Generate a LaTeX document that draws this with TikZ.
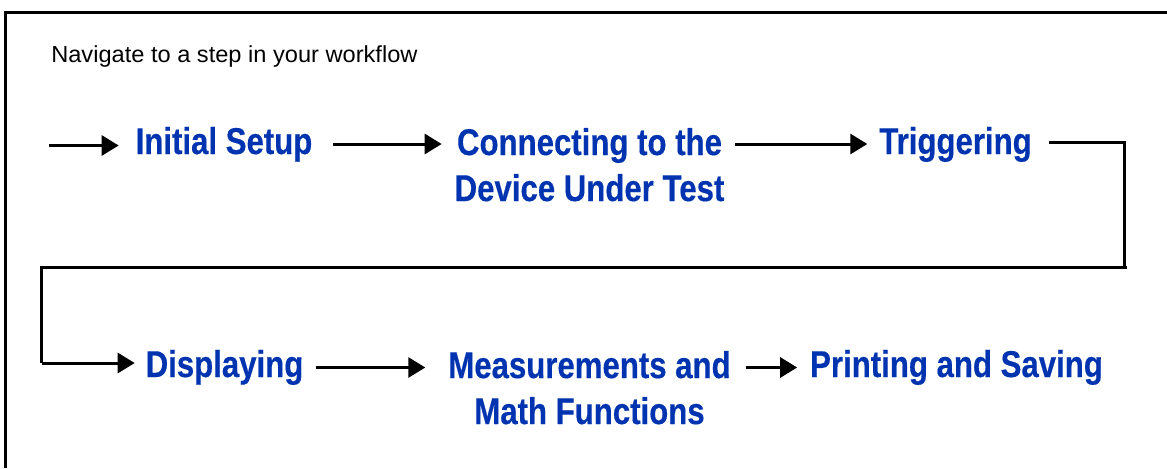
\documentclass[tikz,border=0pt]{standalone}
\usepackage{fontspec}
\setmainfont{Liberation Sans}
\newfontfamily\stepfont[FakeStretch=0.835,BoldFeatures={FakeStretch=0.835,FakeBold=0.35}]{Liberation Sans}
\newfontfamily\introfont[FakeStretch=1.018]{Liberation Sans}
\usetikzlibrary{arrows.meta}
\definecolor{stepblue}{RGB}{0,51,175}
\tikzset{
  stepnode/.style={inner sep=0pt,outer sep=0pt,text=stepblue,align=center,
    font=\stepfont\bfseries\fontsize{28pt}{34.5pt}\selectfont},
  heavy/.style={line width=2.25pt,draw=black},
  flow/.style={heavy,-{Triangle[length=12.75pt,width=15pt]}},
}
\begin{document}
\begin{tikzpicture}[x=0.75pt,y=-0.75pt]
\useasboundingbox (0,0) rectangle (1167,468);
\coordinate (fa) at (5.5,468);
\coordinate (fb) at (5.5,12.5);
\coordinate (fc) at (1167,12.5);
\draw[heavy] (fa) -- (fb) -- (fc);
\node[anchor=base west,inner sep=0pt,font=\introfont\fontsize{17.4pt}{20pt}\selectfont] (intro) at (51,62) {Navigate to a step in your workflow};
\node[stepnode,anchor=base] (s1) at (224,154) {Initial Setup};
\node[stepnode,anchor=north] (s2) at (589.5,128) {Connecting to the\\Device Under Test};
\node[stepnode,anchor=base] (s3) at (955.5,154) {Triggering};
\node[stepnode,anchor=base] (s4) at (224.5,377) {Displaying};
\node[stepnode,anchor=north] (s5) at (589.5,351) {Measurements and\\Math Functions};
\node[stepnode,anchor=base] (s6) at (956.5,377) {Printing and Saving};
\coordinate (start) at (49,145.5);
\coordinate (r1) at (1124.7,142.5);
\coordinate (r2) at (1124.7,267);
\coordinate (l1) at (41.5,267);
\coordinate (l2) at (41.5,363);
\coordinate (re) at (1126.5,267);
\draw[flow,shorten >=12.75pt] (start) -- (s1.west |- start);
\draw[flow,shorten <=15.75pt,shorten >=9.75pt] (s1.east |- 0,144) -- (s2.west |- 0,144);
\draw[flow,shorten <=8.25pt,shorten >=9pt] (s2.east |- 0,144) -- (s3.west |- 0,144);
\draw[heavy,shorten <=12.75pt,line join=miter] (s3.east |- r1) -- (r1) -- (r2);
\draw[heavy,line join=miter] (re) -- (l1) -- (l2);
\draw[flow,shorten >=8.25pt] (l2) -- (s4.west |- l2);
\draw[flow,shorten <=9.75pt,shorten >=17.25pt] (s4.east |- 0,367.5) -- (s5.west |- 0,367.5);
\draw[flow,shorten <=11.25pt,shorten >=9.75pt] (s5.east |- 0,367.5) -- (s6.west |- 0,367.5);
\end{tikzpicture}
\end{document}
